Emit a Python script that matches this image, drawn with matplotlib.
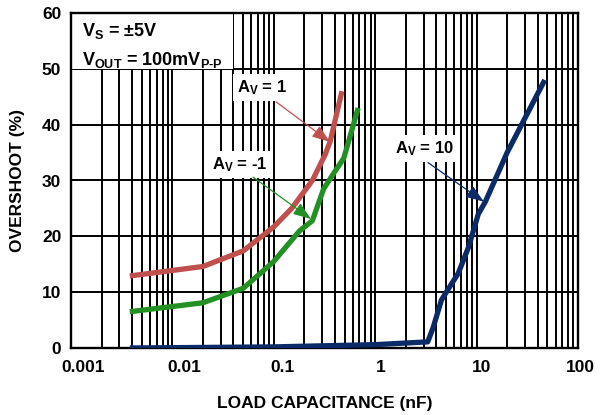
import numpy as np
import matplotlib
matplotlib.use("Agg")
import matplotlib.pyplot as plt
from matplotlib.ticker import LogLocator, NullFormatter, FixedLocator
from matplotlib.patches import Rectangle
from matplotlib.transforms import ScaledTranslation, blended_transform_factory

plt.rcParams['font.family'] = ['Liberation Sans', 'DejaVu Sans']
plt.rcParams['font.weight'] = 'bold'
plt.rcParams['mathtext.fontset'] = 'custom'
plt.rcParams['mathtext.rm'] = 'Liberation Sans:bold'
plt.rcParams['mathtext.it'] = 'Liberation Sans:bold'
plt.rcParams['mathtext.bf'] = 'Liberation Sans:bold'
plt.rcParams['mathtext.default'] = 'rm'

# ---- data (load capacitance in nF, overshoot in %) ----
av1_cap = [0.0038, 0.02, 0.05, 0.1, 0.15, 0.24, 0.32, 0.36, 0.47]
av1_os = [12.9, 14.6, 17.4, 21.7, 25.0, 30.0, 34.6, 37.0, 46.0]

avm1_cap = [0.0038, 0.02, 0.05, 0.1, 0.125, 0.18, 0.24, 0.31, 0.41, 0.49, 0.68]
avm1_os = [6.5, 8.1, 10.7, 15.5, 17.6, 21.0, 22.8, 28.5, 31.9, 34.0, 43.0]

av10_cap = [0.0038, 0.1, 1.0, 3.3, 3.75, 4.5, 6.6, 8.3, 10.4, 12.2, 20.0, 47.0]
av10_os = [0.0, 0.2, 0.6, 1.1, 3.8, 8.6, 13.4, 18.0, 24.0, 26.2, 35.0, 48.0]

xtick_vals = [0.001, 0.01, 0.1, 1, 10, 100]
xtick_labels = ["0.001", "0.01", "0.1", "1", "10", "100"]
xtick_label_shift_px = [12, 12, 9, 6, 5, 2]
ytick_vals = [0, 10, 20, 30, 40, 50, 60]

RED = '#C0504D'
GREEN = '#229022'
NAVY = '#0B2A68'

fig = plt.figure(figsize=(6.07, 4.15), dpi=100)
ax = fig.add_axes([71/607, 67/415, 507/607, 335/415])
ax.set_xscale('log')
ax.set_xlim(0.001, 100)
ax.set_ylim(0, 60)

ax.xaxis.set_major_locator(FixedLocator(xtick_vals))
ax.xaxis.set_minor_locator(LogLocator(base=10, subs=np.arange(2, 10)))
ax.xaxis.set_minor_formatter(NullFormatter())
ax.set_xticklabels([])
ax.set_yticks(ytick_vals)
ax.set_yticklabels([str(v) for v in ytick_vals], fontsize=12.5, fontweight='bold')
ax.tick_params(axis='both', which='both', length=0)
ax.tick_params(axis='y', pad=7)

ax.grid(True, which='both', axis='x', color='black', lw=1.4, zorder=1)
ax.grid(True, which='major', axis='y', color='black', lw=1.4, zorder=1)
ax.set_axisbelow(True)
for s in ax.spines.values():
    s.set_linewidth(1.7)
    s.set_color('black')

# x tick labels placed as text (slightly shifted right like the original)
trans = blended_transform_factory(ax.transData, ax.transAxes)
for v, lab, dx in zip(xtick_vals, xtick_labels, xtick_label_shift_px):
    ax.text(v, -0.057, lab, transform=trans + ScaledTranslation(dx/100, 0, fig.dpi_scale_trans),
            ha='center', va='center', fontsize=12.5, fontweight='bold', clip_on=False)

ax.set_xlabel('LOAD CAPACITANCE (nF)', fontsize=12.5, fontweight='bold', labelpad=31)
ax.set_ylabel('OVERSHOOT (%)', fontsize=12.5, fontweight='bold', labelpad=12)

lw = 3.8
ax.plot(av1_cap, av1_os, color=RED, lw=lw, solid_capstyle='butt', solid_joinstyle='round', zorder=3)
ax.plot(avm1_cap, avm1_os, color=GREEN, lw=lw, solid_capstyle='butt', solid_joinstyle='round', zorder=3)
ax.plot(av10_cap, av10_os, color=NAVY, lw=lw, solid_capstyle='butt', solid_joinstyle='round', zorder=3)

# condition box
ax.add_patch(Rectangle((0.002, 0.833), 0.318, 0.164, transform=ax.transAxes,
                       facecolor='white', edgecolor='none', zorder=2.5))
ax.text(0.022, 0.931, r'$V_S$ = ±5V', transform=ax.transAxes, fontsize=13,
        fontweight='bold', va='baseline', ha='left', zorder=4)
ax.text(0.022, 0.845, r'$V_{OUT}$ = 100m$V_{P\text{-}P}$', transform=ax.transAxes, fontsize=13,
        fontweight='bold', va='baseline', ha='left', zorder=4)

box = dict(boxstyle='square,pad=0.25', facecolor='white', edgecolor='none')
arr_kw = dict(arrowstyle='-|>,head_length=0.55,head_width=0.2', lw=0.9, shrinkA=0, shrinkB=0,
              mutation_scale=20)

ax.text(0.0766, 46.6, r'$A_V$ = 1', fontsize=12, fontweight='bold', ha='center', va='center',
        bbox=box, zorder=4)
ax.annotate('', xy=(0.358, 36.9), xytext=(0.105, 44.1),
            arrowprops=dict(color=RED, **arr_kw), zorder=5)

ax.text(0.0464, 32.8, r'$A_V$ = -1', fontsize=12, fontweight='bold', ha='center', va='center',
        bbox=box, zorder=4)
ax.annotate('', xy=(0.233, 23.1), xytext=(0.0624, 30.6),
            arrowprops=dict(color=GREEN, **arr_kw), zorder=5)

ax.text(3.10, 35.7, r'$A_V$ = 10', fontsize=12, fontweight='bold', ha='center', va='center',
        bbox=box, zorder=4)
ax.annotate('', xy=(11.8, 26.2), xytext=(3.32, 33.2),
            arrowprops=dict(color=NAVY, **arr_kw), zorder=5)

fig.savefig('out.png', dpi=100)
